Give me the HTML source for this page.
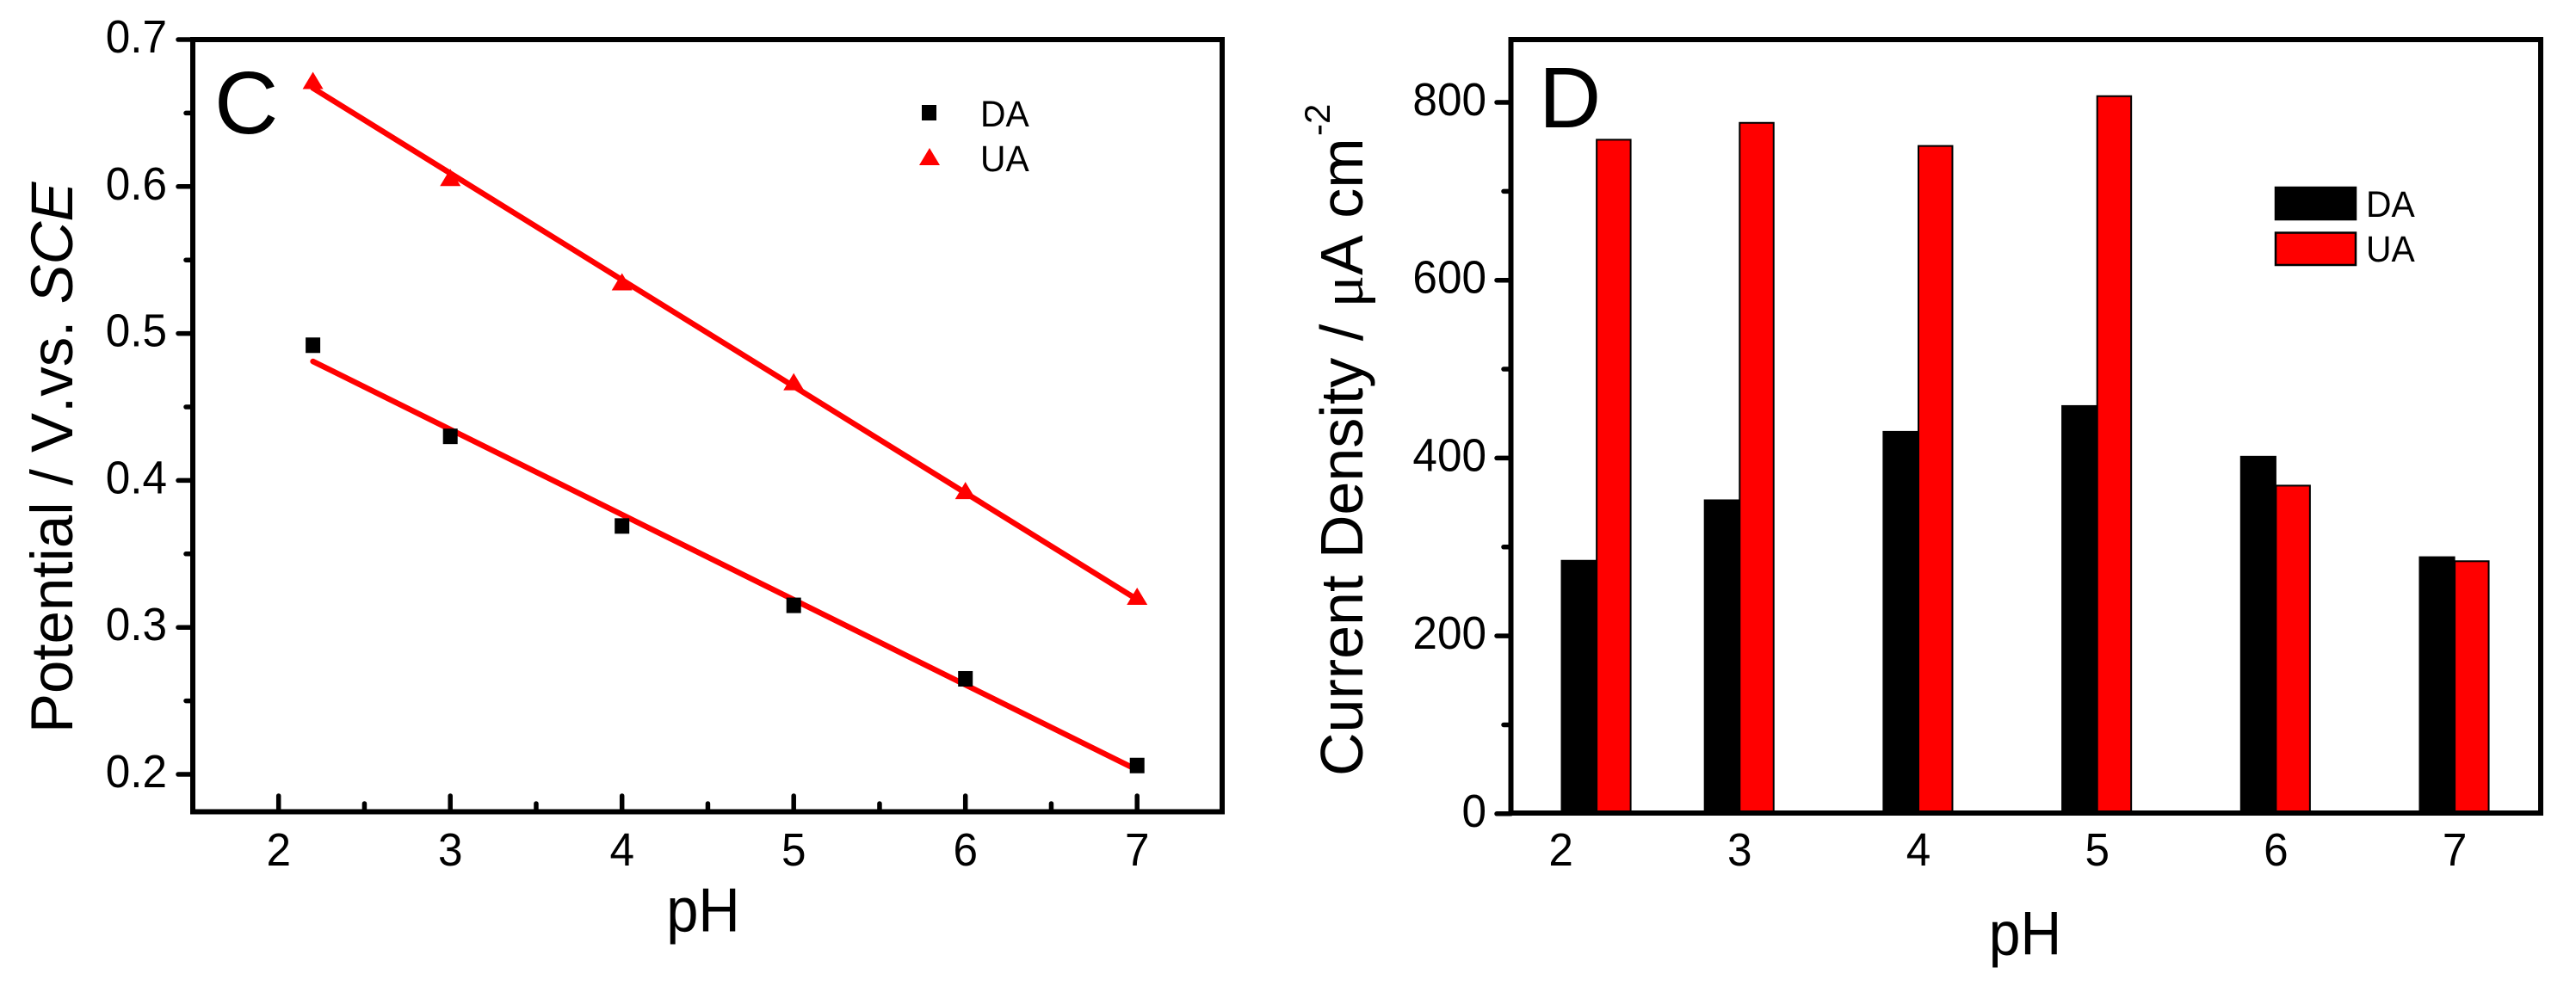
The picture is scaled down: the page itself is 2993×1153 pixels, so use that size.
<!DOCTYPE html>
<html lang="en">
<head>
<meta charset="utf-8">
<title>pH dependence of potential and current density</title>
<style>
  html,body{margin:0;padding:0;background:#fff;}
  svg{display:block;}
  text{font-family:"Liberation Sans",sans-serif;fill:#000;}
  .nokern{font-kerning:none;}
</style>
</head>
<body>
<svg id="fig" xmlns="http://www.w3.org/2000/svg" width="2993" height="1153" viewBox="0 0 2993 1153">
  <rect width="2993" height="1153" fill="#fff"/>

  <g id="panelC">
    <g id="cMarks"></g>
    <rect x="224" y="46" width="1196" height="897.5" fill="none" stroke="#000" stroke-width="6"/>
    <g id="cAxes"></g>
    <text x="249" y="155" font-size="103">C</text>
    <text transform="translate(817,1082.5) scale(.93,1)" font-size="72" text-anchor="middle">pH</text>
    <text class="nokern" transform="translate(84,852) rotate(-90)" font-size="69">Potential / V.vs. <tspan font-style="italic">SCE</tspan></text>
    <g>
      <rect x="1071" y="122" width="17" height="18" fill="#000"/>
      <text transform="translate(1139,147) scale(.95,1)" font-size="43">DA</text>
      <polygon points="1080,172 1092,192 1068,192" fill="#f00"/>
      <text transform="translate(1139,199) scale(.95,1)" font-size="43">UA</text>
    </g>
  </g>

  <g id="panelD">
    <g id="dMarks"></g>
    <rect x="1755.5" y="46" width="1196.5" height="899" fill="none" stroke="#000" stroke-width="6"/>
    <g id="dAxes"></g>
    <text x="1788" y="148" font-size="100">D</text>
    <text transform="translate(2353,1109.5) scale(.93,1)" font-size="71" text-anchor="middle">pH</text>
    <text class="nokern" transform="translate(1583,902) rotate(-90)" font-size="70">Current Density / <tspan font-family="Liberation Serif">μ</tspan>A cm</text>
    <text transform="translate(1545,158) rotate(-90)" font-size="42">-2</text>
    <g>
      <rect x="2644" y="218" width="93" height="37" fill="#000" stroke="#000" stroke-width="2.5"/>
      <text transform="translate(2749,252) scale(.95,1)" font-size="43">DA</text>
      <rect x="2644" y="270.5" width="93" height="37.5" fill="#f00" stroke="#000" stroke-width="2.5"/>
      <text transform="translate(2749,304) scale(.95,1)" font-size="43">UA</text>
    </g>
  </g>
</svg>

<script>
// Panel C data
const cPH = [2.2, 3, 4, 5, 6, 7];
const cDA = [0.492, 0.430, 0.369, 0.315, 0.265, 0.206];
const cUA = [0.671, 0.605, 0.534, 0.466, 0.392, 0.320];
const cFitPH = [2.2, 7];
const cFitDA = [0.481, 0.203];
const cFitUA = [0.667, 0.319];
const cXTicks = [2, 3, 4, 5, 6, 7];
const cXMinor = [2.5, 3.5, 4.5, 5.5, 6.5];
const cYTicks = [0.2, 0.3, 0.4, 0.5, 0.6, 0.7];
const cYMinor = [0.25, 0.35, 0.45, 0.55, 0.65];

// Panel D data
const dPH = [2.2, 3, 4, 5, 6, 7];
const dDA = [285, 353, 430, 459, 402, 289];
const dUA = [758, 777, 751, 807, 369, 284];
const dXTicks = [2, 3, 4, 5, 6, 7];
const dYTicks = [0, 200, 400, 600, 800];
const dYMinor = [100, 300, 500, 700];

const NS = 'http://www.w3.org/2000/svg';
function mk(tag, attrs, parent) {
  const el = document.createElementNS(NS, tag);
  for (const k in attrs) el.setAttribute(k, attrs[k]);
  parent.appendChild(el);
  return el;
}

// Axis functions
const cx = v => 323.7 + (v - 2) * 199.5;
const cy = v => 900 - (v - 0.2) * 1708;
const dx = v => 1813.6 + (v - 2) * 207.7;
const dy = v => 945.8 - v * 1.0335;
const DA_WIDTH_UNITS = 0.198;
const UA_WIDTH_UNITS = 0.19;
const LABEL_SQUEEZE = 0.95;

const cMarks = document.getElementById('cMarks');
const cAxes = document.getElementById('cAxes');
const dMarks = document.getElementById('dMarks');
const dAxes = document.getElementById('dAxes');

// Panel C fit lines
[[cFitDA, 'fit-line-da'], [cFitUA, 'fit-line-ua']].forEach(function (pair) {
  const el = mk('line', {x1: cx(cFitPH[0]), y1: cy(pair[0][0]), x2: cx(cFitPH[1]), y2: cy(pair[0][1]), stroke: '#f00', 'stroke-width': 6.5, 'stroke-linecap': 'round'}, cMarks);
  
  
});

// Panel C points
cPH.forEach(function (p, i) {
  const sq = mk('rect', {x: cx(p) - 8.5, y: cy(cDA[i]) - 9, width: 17, height: 18, fill: '#000'}, cMarks);
  
  
  const X = cx(p), Y = cy(cUA[i]);
  const tri = mk('polygon', {points: X + ',' + (Y - 12) + ' ' + (X + 12) + ',' + (Y + 8) + ' ' + (X - 12) + ',' + (Y + 8), fill: '#f00'}, cMarks);
  
  
});

// Panel C x axis
cXTicks.forEach(function (t) {
  const tick = mk('line', {x1: cx(t), x2: cx(t), y1: 943, y2: 925, stroke: '#000', 'stroke-width': 5.5, 'stroke-linecap': 'round'}, cAxes);
  
  
  const lab = mk('text', {transform: 'translate(' + cx(t) + ',1006) scale(' + LABEL_SQUEEZE + ',1)', 'font-size': 54, 'text-anchor': 'middle'}, cAxes);
  lab.textContent = String(t);
  
  
});
cXMinor.forEach(function (t) {
  const tick = mk('line', {x1: cx(t), x2: cx(t), y1: 943, y2: 934, stroke: '#000', 'stroke-width': 5.5, 'stroke-linecap': 'round'}, cAxes);
  
  
});

// Panel C y axis
cYTicks.forEach(function (t) {
  const tick = mk('line', {x1: 224, x2: 207, y1: cy(t), y2: cy(t), stroke: '#000', 'stroke-width': 5.5, 'stroke-linecap': 'round'}, cAxes);
  
  
  const lab = mk('text', {transform: 'translate(194,' + (cy(t) + 15) + ') scale(' + LABEL_SQUEEZE + ',1)', 'font-size': 54, 'text-anchor': 'end'}, cAxes);
  lab.textContent = t.toFixed(1);
  
  
});
cYMinor.forEach(function (t) {
  const tick = mk('line', {x1: 224, x2: 216, y1: cy(t), y2: cy(t), stroke: '#000', 'stroke-width': 5.5, 'stroke-linecap': 'round'}, cAxes);
  
  
});

// Panel D bars
dPH.forEach(function (p, i) {
  const X = dx(p);
  const ua = mk('rect', {x: X, y: dy(dUA[i]), width: UA_WIDTH_UNITS * 207.7, height: dy(0) - dy(dUA[i]), fill: '#f00', stroke: '#000', 'stroke-width': 2}, dMarks);
  
  
  const daW = DA_WIDTH_UNITS * 207.7;
  const da = mk('rect', {x: X - daW, y: dy(dDA[i]), width: daW, height: dy(0) - dy(dDA[i]), fill: '#000', stroke: '#000', 'stroke-width': 1}, dMarks);
  
  
});

// Panel D x labels
dXTicks.forEach(function (t) {
  const lab = mk('text', {transform: 'translate(' + dx(t) + ',1006) scale(' + LABEL_SQUEEZE + ',1)', 'font-size': 54, 'text-anchor': 'middle'}, dAxes);
  lab.textContent = String(t);
  
  
});

// Panel D y axis
dYTicks.forEach(function (t) {
  const tick = mk('line', {x1: 1755.5, x2: 1739, y1: dy(t), y2: dy(t), stroke: '#000', 'stroke-width': 5.5, 'stroke-linecap': 'round'}, dAxes);
  
  
  const lab = mk('text', {transform: 'translate(1727,' + (dy(t) + 15) + ') scale(' + LABEL_SQUEEZE + ',1)', 'font-size': 54, 'text-anchor': 'end'}, dAxes);
  lab.textContent = String(t);
  
  
});
dYMinor.forEach(function (t) {
  const tick = mk('line', {x1: 1755.5, x2: 1747, y1: dy(t), y2: dy(t), stroke: '#000', 'stroke-width': 5.5, 'stroke-linecap': 'round'}, dAxes);
  
  
});
</script>
</body>
</html>
